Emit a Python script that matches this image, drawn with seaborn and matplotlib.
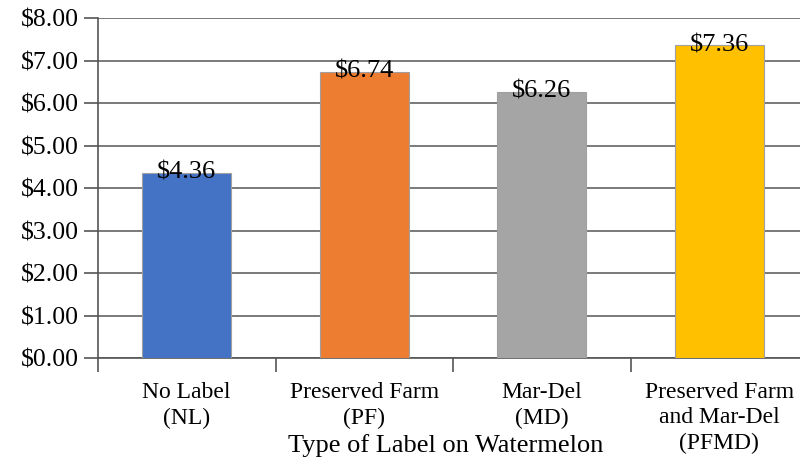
import pandas as pd
import numpy as np
import matplotlib.pyplot as plt
import seaborn as sns

# data
categories = ['No Label\n(NL)', 'Preserved Farm\n(PF)', 'Mar-Del\n(MD)', 'Preserved Farm\nand Mar-Del\n(PFMD)']
prices = [4.36, 6.74, 6.26, 7.36]
bar_colors = ['#4472C4', '#ED7D31', '#A5A5A5', '#FFC000']

df = pd.DataFrame({'label': categories, 'price': prices})

sns.set_style('white')
plt.rcParams['font.family'] = ['Liberation Serif', 'DejaVu Serif']
plt.rcParams['text.color'] = 'black'
plt.rcParams['axes.labelcolor'] = 'black'
plt.rcParams['xtick.color'] = '#555555'
plt.rcParams['ytick.color'] = '#555555'
plt.rcParams['xtick.labelcolor'] = 'black'
plt.rcParams['ytick.labelcolor'] = 'black'

fig = plt.figure(figsize=(8, 4.59), dpi=100)
ax = fig.add_axes([98 / 800, 1 - 358 / 459, 710 / 800, 340 / 459])

sns.barplot(data=df, x='label', y='price', hue='label', palette=bar_colors, saturation=1,
            width=0.5, edgecolor='#A0A0A0', linewidth=0.8, legend=False, ax=ax, zorder=3)

ax.set_xlim(-0.5, 3.5)
ax.set_ylim(0, 8)
ax.set_yticks(np.arange(0, 9, 1))
ax.set_yticklabels(['${:.2f}'.format(v) for v in np.arange(0, 9, 1)], fontsize=18.5)
ax.yaxis.grid(True, color='#707070', linewidth=1.3, zorder=0)
ax.set_axisbelow(True)

# category labels without ticks, boundary ticks as minor ticks
ax.set_xticks(range(len(categories)))
ax.set_xticklabels(categories, fontsize=17, va='top', linespacing=1.3)
ax.tick_params(axis='x', which='major', length=0, pad=17, bottom=True)
ax.set_xticks(np.arange(-0.5, 4, 1), minor=True)
ax.tick_params(axis='x', which='minor', length=10, width=1.2, direction='out', bottom=True)
ax.tick_params(axis='y', which='major', length=10, width=1.2, direction='out', pad=4, left=True)

for s in ['top', 'right']:
    ax.spines[s].set_visible(False)
for s in ['left', 'bottom']:
    ax.spines[s].set_color('#555555')
    ax.spines[s].set_linewidth(1.2)

ax.set_ylabel('')
ax.set_xlabel('Type of Label on Watermelon', fontsize=19, color='black')
ax.xaxis.set_label_coords(0.489, -0.225)

for i, v in enumerate(prices):
    ax.text(i, v, '${:.2f}'.format(v), ha='center', va='center', fontsize=19, zorder=5)

plt.savefig('out.png', dpi=100)
